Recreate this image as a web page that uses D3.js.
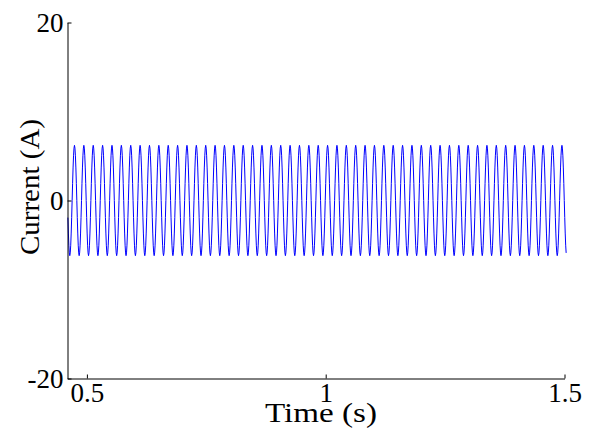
<!DOCTYPE html>
<html>
<head>
<meta charset="utf-8">
<script src="https://cdn.jsdelivr.net/npm/d3@7"></script>
<style>
  html, body { margin: 0; padding: 0; background: #fff; }
  svg { display: block; }
  text { font-family: "Liberation Serif", "Times New Roman", serif; fill: #000; }
</style>
</head>
<body>
<svg id="chart" width="593" height="429"></svg>
<script>
// ---- data ----
const xTicks = [0.5, 1, 1.5];
const xTickLabels = ["0.5", "1", "1.5"];
const yTicks = [-20, 0, 20];
const yTickLabels = ["-20", "0", "20"];
const xDomain = [0.4594, 1.5];
const yDomain = [-20, 20];
const xLabel = "Time (s)";
const yLabel = "Current (A)";

// one period of the current waveform, normalised, starting at a trough
const cycleShape = [-1, -0.95, -0.81, -0.59, -0.31, 0, 0.31, 0.59, 0.81, 0.95,
                    1, 0.95, 0.81, 0.59, 0.31, 0, -0.31, -0.59, -0.81, -0.95];
// first trough time and period (s)
const firstTrough = [0.4642];
const periodSec = [0.019627];
// recorded time span of the trace (s)
const traceSpan = [0.46, 1.5035];
// peak amplitude (A) of each cycle
const cycleAmplitude = [
  6.2, 6.2, 6.2, 6.2, 6.2, 6.2, 6.2, 6.2, 6.2, 6.2,
  6.2, 6.2, 6.2, 6.2, 6.2, 6.2, 6.2, 6.2, 6.2, 6.2,
  6.2, 6.2, 6.2, 6.2, 6.2, 6.2, 6.2, 6.2, 6.2, 6.2,
  6.2, 6.2, 6.2, 6.2, 6.2, 6.2, 6.2, 6.2, 6.2, 6.2,
  6.2, 6.2, 6.2, 6.2, 6.2, 6.2, 6.2, 6.2, 6.2, 6.2,
  6.2, 6.2, 6.2, 6.2, 6.2
];

// build the sampled series from the arrays above
const series = [];
cycleAmplitude.forEach((amp, c) => {
  cycleShape.forEach((v, k) => {
    const t = firstTrough[0] + (c - 1 + k / cycleShape.length) * periodSec[0];
    if (t >= traceSpan[0] && t <= traceSpan[1]) series.push({ t: t, v: v * amp });
  });
});

// ---- layout ----
const svg = d3.select("#chart");
const x = d3.scaleLinear().domain(xDomain).range([67.5, 564.5]);
const y = d3.scaleLinear().domain(yDomain).range([378.5, 22.5]);

// line
svg.append("path")
  .datum(series)
  .attr("fill", "none")
  .attr("stroke", "#0000ff")
  .attr("stroke-width", 1)
  .attr("d", d3.line().x(d => x(d.t)).y(d => y(d.v)));

// x axis
const xAxis = svg.append("g")
  .attr("transform", `translate(0,${y(yDomain[0])})`)
  .call(d3.axisBottom(x).tickValues(xTicks).tickFormat((d, i) => xTickLabels[i]).tickSizeInner(-4).tickSizeOuter(0).tickPadding(4));
xAxis.select(".domain").attr("stroke", "#000");
xAxis.selectAll(".tick line").attr("stroke", "#000");
xAxis.selectAll("text").attr("font-size", 27).attr("font-family", "Liberation Serif").attr("fill", "#000");

// y axis
const yAxis = svg.append("g")
  .attr("transform", `translate(${x(xDomain[0])},0)`)
  .call(d3.axisLeft(y).tickValues(yTicks).tickFormat((d, i) => yTickLabels[i]).tickSizeInner(-4).tickSizeOuter(0).tickPadding(4));
yAxis.select(".domain").attr("stroke", "#000");
yAxis.selectAll(".tick line").attr("stroke", "#000");
yAxis.selectAll("text").attr("font-size", 27).attr("font-family", "Liberation Serif").attr("fill", "#000");

// axis titles
svg.append("text")
  .attr("x", 321).attr("y", 422)
  .attr("text-anchor", "middle")
  .attr("font-size", 27)
  .attr("textLength", 112)
  .attr("lengthAdjust", "spacingAndGlyphs")
  .text(xLabel);

svg.append("text")
  .attr("transform", "translate(39,187) rotate(-90)")
  .attr("text-anchor", "middle")
  .attr("font-size", 28)
  .attr("textLength", 136)
  .attr("lengthAdjust", "spacingAndGlyphs")
  .text(yLabel);
</script>
</body>
</html>
